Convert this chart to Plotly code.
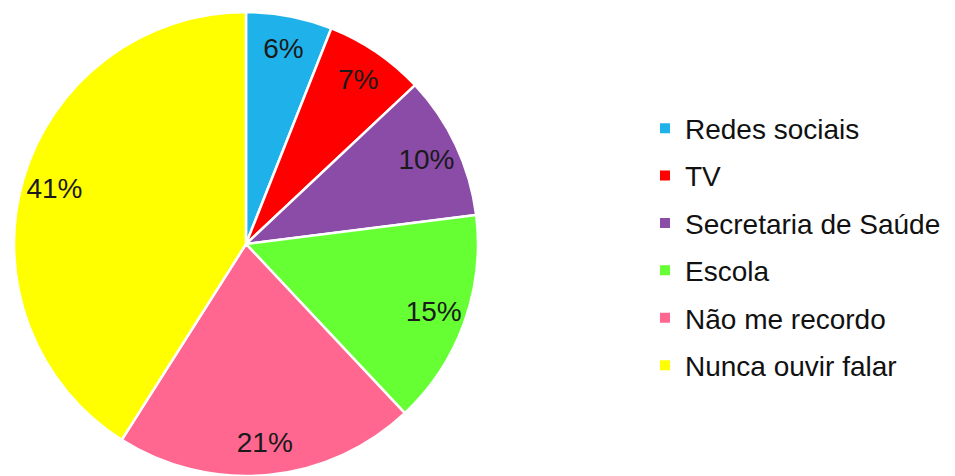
import plotly.graph_objects as go

labels = ["Redes sociais", "TV", "Secretaria de Saúde", "Escola", "Não me recordo", "Nunca ouvir falar"]
values = [6, 7, 10, 15, 21, 41]
colors = ["#1FB2EA", "#FF0000", "#8B4CA8", "#66FF33", "#FF6690", "#FFFF00"]

font_family = "Liberation Sans, Arial, sans-serif"
dom = dict(x=[0.0063, 0.4921], y=[0.0168, 0.9916])

fig = go.Figure()
fig.add_trace(go.Pie(
    labels=labels, values=values, sort=False, direction="clockwise", rotation=0,
    marker=dict(colors=colors, line=dict(color="white", width=2.5)),
    textinfo="none", textposition="inside", hoverinfo="label+percent", domain=dom, showlegend=False,
))
fig.add_trace(go.Pie(
    labels=labels, values=values, sort=False, direction="clockwise", rotation=0,
    hole=0.72,
    marker=dict(colors=["rgba(0,0,0,0)"] * len(values), line=dict(width=0)),
    texttemplate="%{value}%", textposition="inside", insidetextorientation="horizontal",
    textfont=dict(family=font_family, size=28, color="#1a1a1a"),
    hoverinfo="skip", domain=dom, showlegend=False,
))
# legend entries (one group per category so the gap between them can be set)
for lab, col in zip(labels, colors):
    fig.add_trace(go.Scatter(
        x=[None], y=[None], mode="markers", name=lab, legendgroup=lab,
        marker=dict(symbol="square", size=10, color=col, line=dict(width=0)),
        showlegend=True, hoverinfo="skip",
    ))
fig.update_layout(
    width=955, height=476,
    margin=dict(l=0, r=0, t=0, b=0),
    paper_bgcolor="white", plot_bgcolor="white",
    font=dict(family=font_family, color="#111"),
    xaxis=dict(visible=False, domain=[0.99, 1]),
    yaxis=dict(visible=False, domain=[0.99, 1]),
    legend=dict(x=0.667, y=0.498, xanchor="left", yanchor="middle",
                font=dict(family=font_family, size=28, color="#111"),
                itemwidth=30, tracegroupgap=8, traceorder="grouped"),
)
fig.write_html("out.html")
